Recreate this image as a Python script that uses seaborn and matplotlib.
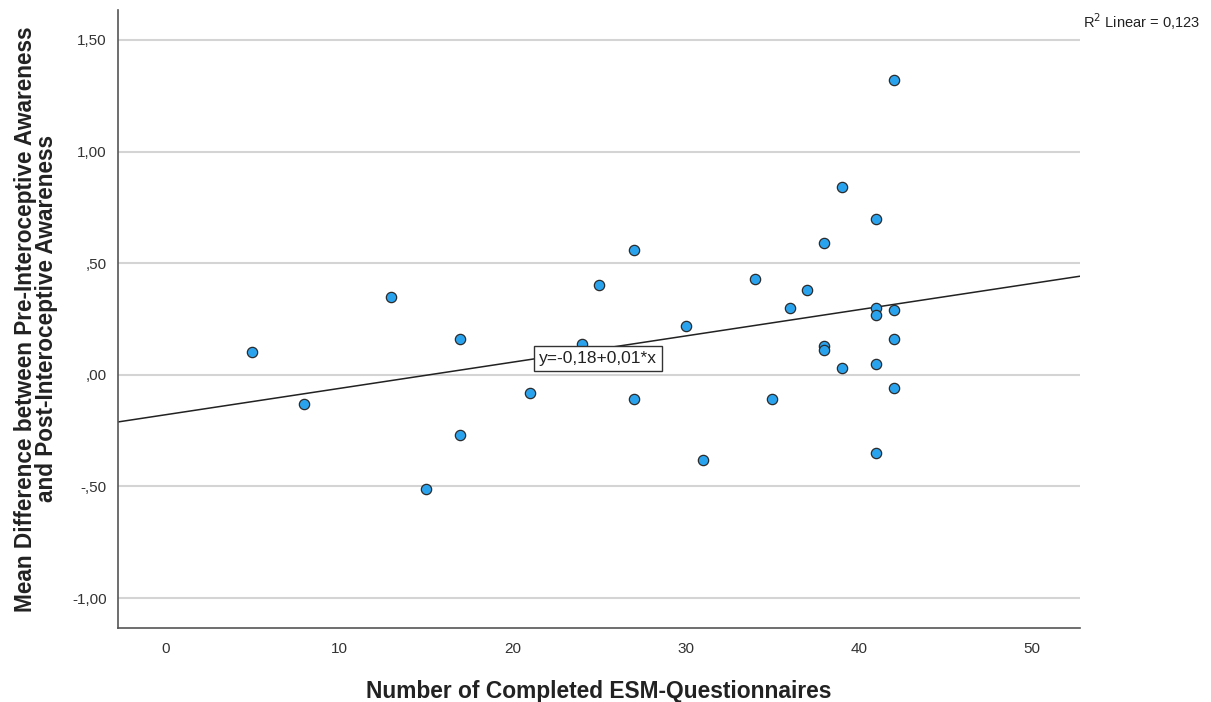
import matplotlib
matplotlib.use("Agg")
import matplotlib.pyplot as plt
import seaborn as sns
import pandas as pd
from matplotlib.ticker import FuncFormatter

# values
completed = [5, 8, 13, 15, 17, 17, 21, 24, 25, 27, 27, 30, 31, 34, 35, 36, 37,
             38, 38, 38, 39, 39, 41, 41, 41, 41, 41, 42, 42, 42, 42]
mean_diff = [0.10, -0.13, 0.35, -0.51, 0.16, -0.27, -0.08, 0.14, 0.40, 0.56, -0.11,
             0.22, -0.38, 0.43, -0.11, 0.30, 0.38, 0.59, 0.13, 0.11, 0.84, 0.03,
             0.70, 0.30, 0.27, 0.05, -0.35, 1.32, 0.29, 0.16, -0.06]
x_ticks = [0, 10, 20, 30, 40, 50]
y_ticks = [-1.0, -0.5, 0.0, 0.5, 1.0, 1.5]
eq_label = "y=-0,18+0,01*x"
r2_label = "R$^2$ Linear = 0,123"

df = pd.DataFrame({"completed": completed, "diff": mean_diff})

sns.set_style("white")
plt.rcParams['font.family'] = ['Liberation Sans', 'DejaVu Sans']

fig = plt.figure(figsize=(12.11, 7.02), dpi=100)
ax = fig.add_axes([0.0974, 0.1054, 0.7944, 0.8804])

ax.set_xlim(-2.75, 52.75)
ax.set_ylim(-1.134, 1.634)

# grid first so it sits under the points
for v in y_ticks:
    ax.axhline(v, color="#d4d4d4", lw=1.5, zorder=0)

sns.regplot(data=df, x="completed", y="diff", ax=ax, scatter=False, ci=None,
            truncate=False, line_kws={"color": "#222222", "lw": 1.1, "zorder": 2})
sns.scatterplot(data=df, x="completed", y="diff", ax=ax, s=55, color="#2aa3ee",
                edgecolor="#2b2b2b", linewidth=0.9, zorder=3)

ax.text(24.95, 0.072, eq_label, ha="center", va="center", fontsize=12.5, color="#222222",
        bbox=dict(boxstyle="square,pad=0.3", fc="white", ec="#333333", lw=1), zorder=4)
fig.text(1083 / 1211, 1 - 22 / 702, r2_label, ha="left", va="center", fontsize=10.5,
         color="#222222")


def spss_fmt(v, pos):
    s = f"{v:.2f}".replace(".", ",")
    s = s.replace("-0,", "-,")
    if s.startswith("0,"):
        s = s[1:]
    return s


ax.set_xticks(x_ticks)
ax.set_yticks(y_ticks)
ax.yaxis.set_major_formatter(FuncFormatter(spss_fmt))
ax.tick_params(length=0, labelsize=11, colors="#333333")
ax.tick_params(axis="x", pad=10)
ax.tick_params(axis="y", pad=8)

for side in ["top", "right"]:
    ax.spines[side].set_visible(False)
for side in ["left", "bottom"]:
    ax.spines[side].set_color("#555555")
    ax.spines[side].set_linewidth(1.2)

ax.set_xlabel("Number of Completed ESM-Questionnaires", fontsize=16.4, fontweight="bold",
              color="#222222", labelpad=17)
ax.set_ylabel("Mean Difference between Pre-Interoceptive Awareness\nand Post-Interoceptive Awareness",
              fontsize=16.3, fontweight="bold", color="#222222", labelpad=10, linespacing=0.9)

fig.savefig("out.png", dpi=100, facecolor="white")
